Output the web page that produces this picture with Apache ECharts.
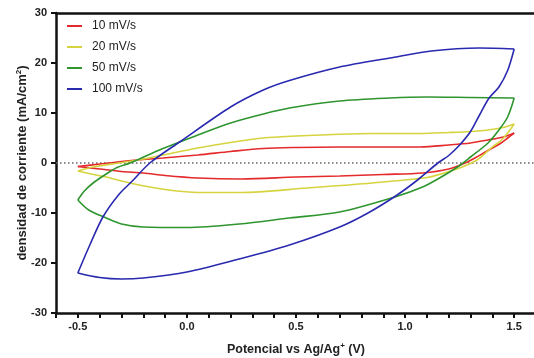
<!DOCTYPE html>
<html>
<head>
<meta charset="utf-8">
<script src="https://cdn.jsdelivr.net/npm/echarts@6/dist/echarts.min.js"></script>
<style>
  html, body { margin: 0; padding: 0; background: #fff; }
  #chart { width: 534px; height: 358px; }
</style>
</head>
<body>
<div id="chart"></div>
<script>
const scanRates = ["10 mV/s", "20 mV/s", "50 mV/s", "100 mV/s"];
const colors = ["#e42a2c", "#d6d43e", "#2f962f", "#2a2ab0"];

// forward scans, -0.5 -> 1.5 V  [E (V), j (mA/cm2)]
const fwd10 = [[-0.5,-0.7],[-0.4,-0.2],[-0.3,0.3],[-0.2,0.7],[-0.11,1.0],[0.05,1.6],[0.2,2.3],[0.35,2.9],[0.5,3.1],[0.7,3.2],[0.9,3.2],[1.07,3.2],[1.2,3.6],[1.3,4.0],[1.38,4.6],[1.45,5.2],[1.5,6.0]];
const fwd20 = [[-0.5,-1.6],[-0.43,-0.8],[-0.31,0.0],[-0.2,0.8],[-0.11,1.6],[0.05,3.0],[0.2,4.1],[0.35,5.0],[0.5,5.4],[0.67,5.7],[0.85,5.9],[1.07,5.9],[1.2,6.1],[1.3,6.3],[1.38,6.6],[1.45,7.1],[1.5,7.8]];
const fwd50 = [[-0.5,-7.4],[-0.47,-5.6],[-0.43,-4.0],[-0.37,-2.2],[-0.32,-0.9],[-0.26,0.0],[-0.11,2.9],[0.05,5.6],[0.2,8.0],[0.35,9.8],[0.47,11.0],[0.7,12.4],[0.93,13.0],[1.1,13.2],[1.3,13.1],[1.5,13.0]];
const fwd100 = [[-0.5,-22],[-0.445,-16.4],[-0.385,-10.8],[-0.31,-6.2],[-0.25,-3.6],[-0.17,0.0],[-0.03,4.3],[0.2,11.2],[0.35,14.6],[0.47,16.5],[0.7,19.2],[0.93,21.0],[1.12,22.4],[1.34,23.0],[1.5,22.8]];

// reverse scans, 1.5 -> -0.5 V
const rev10 = [[1.5,6.0],[1.47,5.0],[1.44,4.0],[1.4,3.0],[1.36,2.0],[1.32,1.0],[1.28,0.1],[1.2,-1.2],[1.08,-2.0],[0.9,-2.3],[0.7,-2.6],[0.5,-2.8],[0.25,-3.2],[0.05,-3.0],[-0.1,-2.5],[-0.2,-2.0],[-0.3,-1.7],[-0.4,-1.2],[-0.5,-0.7]];
const rev20 = [[1.5,7.8],[1.47,6.0],[1.44,4.5],[1.4,3.2],[1.33,0.6],[1.25,-1.0],[1.18,-2.0],[1.1,-2.9],[0.85,-4.0],[0.55,-5.0],[0.25,-5.9],[0.05,-5.9],[-0.1,-5.3],[-0.22,-4.4],[-0.3,-3.6],[-0.37,-2.8],[-0.45,-2.1],[-0.5,-1.6]];
const rev50 = [[1.5,13.0],[1.47,9.2],[1.43,6.6],[1.38,4.0],[1.3,1.2],[1.24,-0.8],[1.15,-3.2],[1.08,-4.8],[0.96,-6.7],[0.7,-9.8],[0.47,-11.0],[0.24,-12.2],[0.0,-12.9],[-0.2,-12.8],[-0.3,-12.2],[-0.37,-11.0],[-0.45,-9.4],[-0.5,-7.4]];
const rev100 = [[1.5,22.8],[1.47,18.5],[1.43,15.2],[1.385,13.0],[1.34,9.5],[1.3,6.3],[1.25,3.6],[1.2,1.5],[1.15,0.0],[1.06,-3.3],[0.96,-6.5],[0.83,-10.0],[0.7,-12.8],[0.47,-16.4],[0.24,-19.2],[0.0,-21.8],[-0.2,-23.0],[-0.3,-23.2],[-0.4,-22.9],[-0.5,-22.0]];

const xLabels = [-0.5, 0.0, 0.5, 1.0, 1.5];
const yTicks = [-30, -20, -10, 0, 10, 20, 30];

const font = "'Liberation Sans', Arial, sans-serif";
const forward = [fwd10, fwd20, fwd50, fwd100];
const reverse = [rev10, rev20, rev50, rev100];
const xMin = -0.6;
const xMax = 1.6; // plot runs a little past the right edge of the picture

const series = [];
scanRates.forEach((name, i) => {
  [forward[i], reverse[i]].forEach((data) => {
    series.push({
      name: name,
      type: "line",
      data: data,
      symbol: "none",
      smooth: 0.3,
      lineStyle: { color: colors[i], width: 1.6 },
      itemStyle: { color: colors[i] },
      z: 3 + i,
    });
  });
});

// dotted zero line
series[0].markLine = {
  silent: true,
  symbol: "none",
  label: { show: false },
  lineStyle: { color: "#666", type: [1.5, 2.5], width: 1.5 },
  data: [{ yAxis: 0 }],
  z: 1,
};

const chart = echarts.init(document.getElementById("chart"));

const titleStyle = (size) => ({
  fontFamily: font,
  fontSize: size,
  fontWeight: "bold",
  color: "#222",
  rich: {
    sup: { fontFamily: font, fontSize: Math.round(size * 0.6), fontWeight: "bold", color: "#222", padding: [0, 0, 7, 0] },
  },
});

chart.setOption({
  animation: false,
  backgroundColor: "#ffffff",
  grid: {
    left: 56,
    right: -2,
    top: 13,
    bottom: 45,
    outerBoundsMode: "none",
  },
  legend: {
    data: scanRates,
    orient: "vertical",
    left: 67,
    top: 20,
    padding: 0,
    icon: "rect",
    itemWidth: 15,
    itemHeight: 2,
    itemGap: 9,
    textStyle: {
      fontFamily: font,
      fontSize: 12,
      color: "#222",
      padding: [0, 0, 0, 5],
    },
  },
  xAxis: [
    {
      type: "value",
      min: xMin,
      max: xMax,
      interval: 0.1,
      name: "Potencial vs Ag/Ag{sup|+} (V)",
      nameLocation: "middle",
      nameGap: 29,
      nameMoveOverlap: false,
      nameTextStyle: titleStyle(12.5),
      axisLine: { show: true, onZero: false, lineStyle: { color: "#111", width: 2.5 } },
      axisTick: { show: true, length: 5, lineStyle: { color: "#111", width: 2 } },
      axisLabel: {
        margin: 8,
        fontFamily: font,
        fontSize: 11,
        fontWeight: "bold",
        color: "#222",
        showMinLabel: true,
        showMaxLabel: true,
        formatter: (v) => {
          const hit = xLabels.find((t) => Math.abs(t - v) < 1e-6);
          return hit === undefined ? "" : hit.toFixed(1);
        },
      },
      splitLine: { show: false },
    },
    {
      // top frame line
      type: "value",
      position: "top",
      min: xMin,
      max: xMax,
      axisLine: { show: true, onZero: false, lineStyle: { color: "#111", width: 2.5 } },
      axisTick: { show: false },
      axisLabel: { show: false },
      splitLine: { show: false },
    },
  ],
  yAxis: {
    type: "value",
    min: yTicks[0],
    max: yTicks[yTicks.length - 1],
    interval: 10,
    name: "densidad de corriente (mA/cm{sup|2})",
    nameLocation: "middle",
    nameGap: 26,
    nameMoveOverlap: false,
    nameTextStyle: titleStyle(13),
    axisLine: { show: true, onZero: false, lineStyle: { color: "#111", width: 2.5 } },
    axisTick: { show: true, length: 5, lineStyle: { color: "#111", width: 2 } },
    axisLabel: {
      margin: 9,
      fontFamily: font,
      fontSize: 11,
      fontWeight: "bold",
      color: "#222",
    },
    splitLine: { show: false },
  },
  series: series,
});
</script>
</body>
</html>
